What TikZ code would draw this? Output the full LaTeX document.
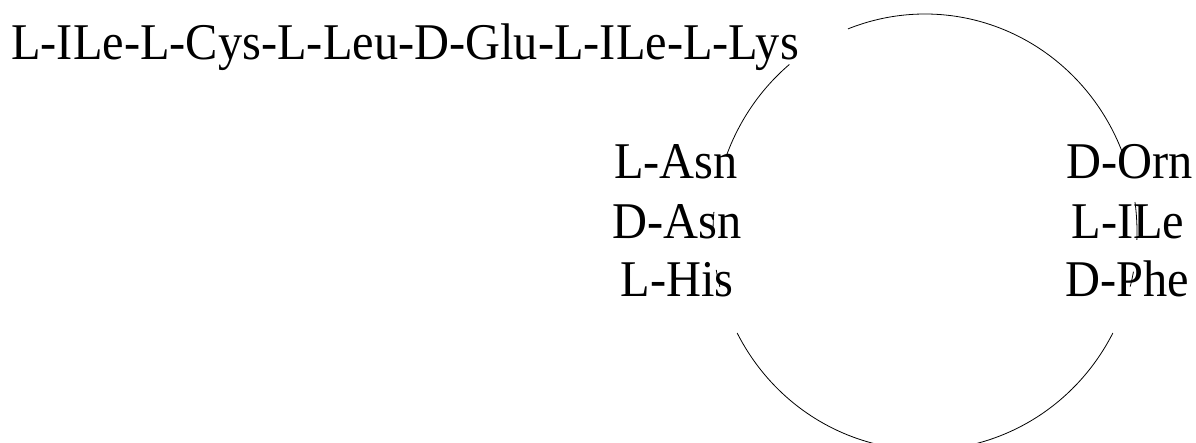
\documentclass[tikz,border=0pt]{standalone}
\usepackage{fontspec}
\setmainfont{Liberation Serif}
\begin{document}
\begin{tikzpicture}[x=1pt,y=1pt,
  lbl/.style={font=\fontsize{51.5}{59}\selectfont, inner sep=0pt, xscale=0.94, anchor=base},
  ring/.style={line width=0.8pt, black}]
\useasboundingbox (0,0) rectangle (1196,443);
\coordinate (c) at (925,211);
\node[lbl, anchor=base west] (chain) at (11,383) {L-ILe-L-Cys-L-Leu-D-Glu-L-ILe-L-Lys};
\node[lbl] (lasn) at (676,264) {L-Asn};
\node[lbl] (dasn) at (677,204) {D-Asn};
\node[lbl] (lhis) at (677,146) {L-His};
\node[lbl] (dorn) at (1130,264) {D-Orn};
\node[lbl] (lile) at (1128,204) {L-ILe};
\node[lbl] (dphe) at (1127,146) {D-Phe};
% ring pieces
\draw[ring] ([shift={(20.5:212pt and 218pt)}]c) arc[start angle=20.5, end angle=111.3, x radius=212pt, y radius=218pt];
\draw[ring] ([shift={(129.8:212pt and 218pt)}]c) arc[start angle=129.8, end angle=159.7, x radius=212pt, y radius=218pt];
\draw[ring] ([shift={(174.7:212pt and 218pt)}]c) arc[start angle=174.7, end angle=178.7, x radius=212pt, y radius=218pt];
\draw[ring] ([shift={(190:212pt and 218pt)}]c) arc[start angle=190, end angle=194.6, x radius=212pt, y radius=218pt];
\draw[ring] ([shift={(-2.1:212pt and 218pt)}]c) arc[start angle=-2.1, end angle=7.9, x radius=212pt, y radius=218pt];
\draw[ring] ([shift={(-14.5:212pt and 218pt)}]c) arc[start angle=-14.5, end angle=-10.5, x radius=212pt, y radius=218pt];
\draw[ring] ([shift={(207.6:212pt and 218pt)}]c) arc[start angle=207.6, end angle=332.4, x radius=212pt, y radius=218pt];
\end{tikzpicture}
\end{document}
